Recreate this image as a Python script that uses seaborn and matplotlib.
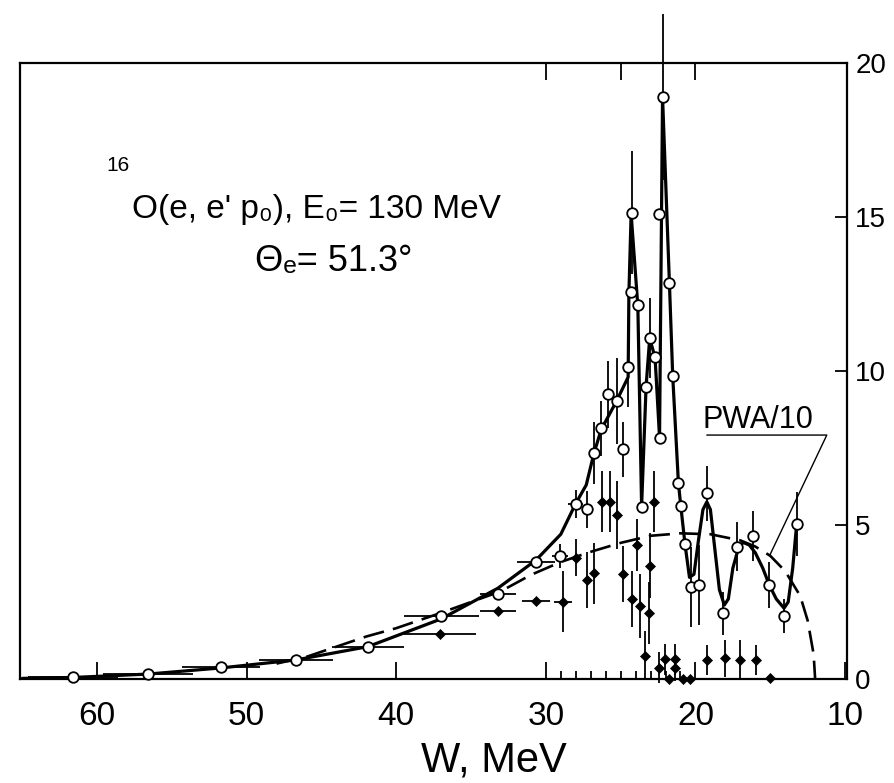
import matplotlib
matplotlib.use("Agg")
import matplotlib.pyplot as plt
import seaborn as sns

# open circles: W (MeV), yield, horizontal error, vertical error
open_w = [61.6, 56.6, 51.7, 46.7, 41.9, 37.0, 33.2, 30.66, 29.05, 28.0,
          27.27, 26.78, 26.31, 25.82, 25.26, 24.87, 24.49, 24.33, 24.26, 23.82,
          23.6, 23.3, 23.06, 22.7, 22.4, 22.43, 22.2, 21.74, 21.52, 21.14,
          20.98, 20.7, 20.32, 19.74, 19.24, 18.13, 17.2, 16.13, 15.07, 14.06, 13.19]
open_y = [0.05, 0.15, 0.38, 0.62, 1.05, 2.06, 2.75, 3.81, 3.99, 5.68,
          5.51, 7.33, 8.14, 9.24, 9.03, 7.46, 10.12, 12.55, 15.14, 12.14,
          5.6, 9.49, 11.06, 10.44, 7.84, 15.1, 18.9, 12.85, 9.84, 6.37,
          5.62, 4.38, 2.98, 3.05, 6.03, 2.13, 4.3, 4.64, 3.05, 2.05, 5.03]
open_xerr = [3.0, 3.0, 2.6, 2.5, 2.4, 2.5, 1.2, 1.25, 0.55, 0.5,
             0, 0, 0, 0, 0, 0, 0, 0, 0, 0,
             0, 0, 0, 0, 0, 0, 0, 0, 0, 0,
             0, 0, 0, 0, 0, 0, 0, 0, 0, 0, 0]
open_yerr = [0, 0, 0, 0, 0, 0, 0, 0, 0.4, 0.45,
             0.6, 1.0, 0.9, 1.1, 1.4, 0.9, 1.3, 0, 2.0, 0,
             0, 0, 1.3, 0, 0, 0, 2.7, 0, 0, 0,
             0, 0, 1.3, 1.3, 0.9, 0.7, 0.8, 0.8, 0.75, 0.55, 1.05]

# filled points
fill_w = [37.07, 33.2, 30.66, 28.87, 27.98, 27.22, 26.78, 26.27, 25.7, 25.27,
          24.83, 24.27, 23.93, 23.7, 23.08, 23.05, 22.78, 23.4, 22.47, 22.02,
          21.8, 21.4, 21.36, 20.8, 20.36, 19.2, 18.0, 17.0, 15.95, 15.0]
fill_y = [1.45, 2.21, 2.53, 2.51, 3.94, 3.21, 3.43, 5.76, 5.76, 5.32,
          3.41, 2.6, 4.35, 2.37, 2.15, 3.68, 5.76, 0.76, 0.37, 0.64,
          0.0, 0.64, 0.35, 0.0, 0.0, 0.62, 0.67, 0.62, 0.62, 0.02]
fill_xerr = [2.4, 1.2, 0.95, 0.6, 0, 0, 0, 0, 0, 0,
             0, 0, 0, 0, 0, 0, 0, 0, 0, 0,
             0, 0, 0, 0, 0, 0, 0, 0, 0, 0]
fill_yerr = [0, 0, 0, 1.0, 0.6, 0.9, 1.0, 1.0, 1.0, 1.1,
             0.9, 0.9, 0.85, 1.05, 1.0, 1.05, 1.0, 0.8, 0.5, 0.5,
             0, 0.5, 0.4, 0, 0, 0.5, 0.6, 0.65, 0.5, 0]

# solid curve through the data
fit_w = [65.0, 61.6, 56.6, 51.7, 46.7, 41.9, 37.0, 33.2, 30.66, 29.0,
         28.0, 27.3, 26.8, 26.3, 25.3, 24.5, 24.45, 24.3, 23.85, 23.6,
         23.3, 23.06, 22.7, 22.4, 22.2, 21.74, 21.52, 21.14, 20.98, 20.7,
         20.4, 20.1, 19.8, 19.5, 19.24, 19.0, 18.7, 18.4, 18.07, 17.8,
         17.5, 17.1, 16.8, 16.4, 16.0, 15.5, 15.06, 14.6, 14.08, 13.8,
         13.5, 13.23]
fit_y = [0.02, 0.05, 0.16, 0.36, 0.62, 1.05, 1.95, 2.95, 3.86, 4.7,
         5.7, 6.3, 7.3, 8.1, 9.0, 9.8, 12.5, 15.1, 12.1, 5.6,
         9.5, 11.06, 10.44, 7.84, 18.9, 12.85, 9.84, 6.37, 5.62, 4.38,
         3.3, 3.4, 4.5, 5.5, 5.75, 5.5, 4.2, 2.9, 2.4, 2.6,
         3.6, 4.3, 4.43, 4.35, 4.1, 3.6, 3.05, 2.6, 2.3, 2.5,
         3.6, 5.05]

# PWA/10 dashed curve
pwa_w = [48, 46, 44, 42, 40, 37, 35, 33, 31, 29, 27, 25, 23, 21, 19,
         17, 16, 15, 14, 13, 12.5, 12.1, 12.0]
pwa_y = [0.5, 0.72, 1.05, 1.38, 1.65, 2.15, 2.5, 2.85, 3.38, 3.8, 4.13,
         4.42, 4.65, 4.73, 4.7, 4.5, 4.3, 4.0, 3.5, 2.7, 1.9, 0.8, 0.0]

x_ticks = [60, 50, 40, 30, 20, 10]
x_minor = [29, 28, 27, 26, 25, 24, 23, 22, 21]
top_ticks = [30, 25, 20]
y_ticks = [0, 5, 10, 15, 20]

sns.set_style("white")
plt.rcParams['font.family'] = ['Liberation Sans', 'DejaVu Sans']
plt.rcParams['text.color'] = 'k'
plt.rcParams['axes.labelcolor'] = 'k'
plt.rcParams['xtick.color'] = 'k'
plt.rcParams['ytick.color'] = 'k'

fig = plt.figure(figsize=(8.94, 7.83), dpi=100)
ax = fig.add_axes([20 / 894, 1 - 679 / 783, 827 / 894, 616 / 783])

ax.errorbar(open_w, open_y, xerr=open_xerr, yerr=open_yerr, fmt='none',
            ecolor='k', elinewidth=1.3, capsize=0, clip_on=False, zorder=3)
ax.errorbar(fill_w, fill_y, xerr=fill_xerr, yerr=fill_yerr, fmt='none',
            ecolor='k', elinewidth=1.3, capsize=0, clip_on=False, zorder=3)

sns.lineplot(x=fit_w, y=fit_y, sort=False, estimator=None, color='k', lw=2.3, ax=ax, zorder=4)
sns.lineplot(x=pwa_w, y=pwa_y, sort=False, estimator=None, color='k', lw=1.9, ax=ax, zorder=4)
ax.lines[-1].set_dashes([8, 3.5])

sns.scatterplot(x=fill_w, y=fill_y, marker='D', s=26, color='k', edgecolor='k',
                linewidth=0.5, ax=ax, zorder=5, clip_on=False)
sns.scatterplot(x=open_w, y=open_y, marker='o', s=58, facecolor='white', edgecolor='k',
                linewidth=1.3, ax=ax, zorder=6, clip_on=False)

ax.set_xlim(65.15, 9.87)
ax.set_ylim(0, 20)

for side in ax.spines.values():
    side.set_linewidth(1.6)
    side.set_color('k')

ax.set_xticks(x_ticks)
ax.set_xticks(x_minor, minor=True)
ax.set_xticklabels([str(t) for t in x_ticks])
ax.yaxis.tick_right()
ax.set_yticks(y_ticks)
ax.set_yticklabels([str(t) for t in y_ticks])
ax.tick_params(axis='x', which='major', direction='in', length=12, width=1.3,
               bottom=True, top=False, pad=16, labelsize=24)
ax.tick_params(axis='x', which='minor', direction='in', length=6, width=1.3,
               bottom=True, top=False)
ax.tick_params(axis='y', direction='in', length=9, width=1.3, left=False,
               right=True, labelright=True, labelleft=False, pad=6, labelsize=20)

top = ax.secondary_xaxis('top')
top.set_xticks(top_ticks)
top.set_xticklabels([])
top.tick_params(direction='in', length=12, width=1.3)
top.spines['top'].set_visible(False)

ax.set_xlabel("W, MeV", fontsize=30)
ax.xaxis.set_label_coords((494 - 20) / 827, (680 - 742) / 617)

ax.text(0.1185, 0.833, "16", transform=ax.transAxes, fontsize=15,
        ha='center', va='center')
ax.text(0.1354, 0.749, "O(e, e' p\u2080), E\u2080= 130 MeV", transform=ax.transAxes,
        fontsize=24, ha='left', va='baseline')
ax.text(0.284, 0.662, "\u0398\u2091= 51.3\u00b0", transform=ax.transAxes,
        fontsize=26, ha='left', va='baseline')

# PWA/10 label with leader line to the dashed curve
label_w, label_y = 15.8, 8.4
line_w = [19.24, 11.22, 15.05]
line_y = [7.92, 7.92, 4.0]
ax.text(label_w, label_y, "PWA/10", fontsize=22, ha='center', va='center')
ax.plot(line_w, line_y, color='k', lw=1.0)

fig.savefig("out.png", dpi=100)
